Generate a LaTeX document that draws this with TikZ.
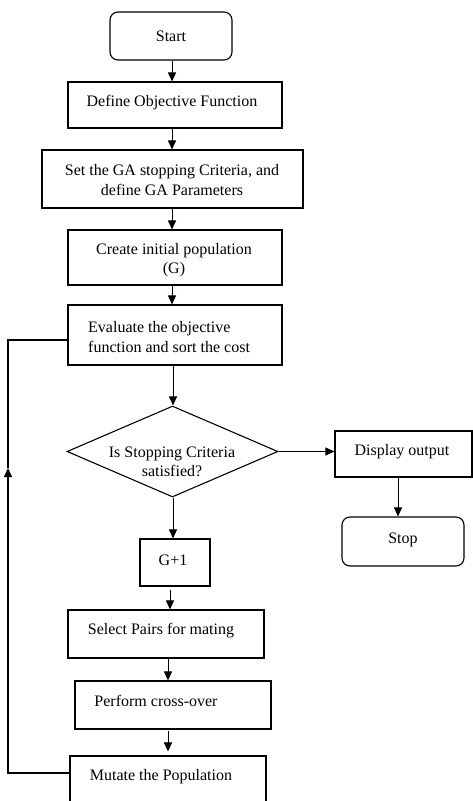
\documentclass[tikz,border=0pt]{standalone}
\usepackage{fontspec}
\setmainfont{Liberation Serif}
\usetikzlibrary{arrows.meta,shapes.geometric}
\tikzset{
  box/.style={draw, line width=1.1pt, inner sep=0pt},
  rbox/.style={box, rounded corners=8pt},
  txt/.style={inner sep=0pt, font=\fontsize{16}{19.5}\selectfont, align=center},
  ltxt/.style={inner sep=0pt, font=\fontsize{16}{19.5}\selectfont, align=left},
  arr/.style={line width=1pt, -{Triangle[length=9pt,width=8pt]}},
  fb/.style={line width=1.6pt}
}
\begin{document}
\begin{tikzpicture}[x=1pt,y=-1pt]
\clip (0,0) rectangle (473,801);
\fill[white] (0,0) rectangle (473,801);
% boxes
\node[rbox, minimum width=122pt, minimum height=48pt] (start) at (171,36) {};
\node[txt] (startt) at (171,36) {Start};
\node[box, minimum width=214pt, minimum height=46pt] (def) at (175,105) {};
\node[txt] (deft) at (172,103) {Define Objective Function};
\node[box, minimum width=261pt, minimum height=58pt] (set) at (172.5,179) {};
\node[txt] (sett) at (172,180) {Set the GA stopping Criteria, and\\define GA Parameters};
\node[box, minimum width=214pt, minimum height=55pt] (create) at (175,257.5) {};
\node[txt] (createt) at (174,260) {Create initial population\\(G)};
\node[box, minimum width=214pt, minimum height=60pt] (eval) at (175,335) {};
\node[ltxt, anchor=west] (evalt) at (88,337) {Evaluate the objective\\function and sort the cost};
\node[draw, line width=1.1pt, diamond, aspect=2.32, minimum width=211pt, minimum height=91pt, inner sep=0pt] (dec) at (172.5,451.5) {};
\node[txt] (dect) at (172,462) {Is Stopping Criteria\\satisfied?};
\node[box, minimum width=137pt, minimum height=46pt] (disp) at (403.5,454) {};
\node[txt] (dispt) at (402,452) {Display output};
\node[rbox, minimum width=122pt, minimum height=49pt] (stop) at (403,541.5) {};
\node[txt] (stopt) at (403,540) {Stop};
\node[box, minimum width=70pt, minimum height=47pt] (g1) at (175,562.5) {};
\node[txt] (g1t) at (173,560) {G+1};
\node[box, minimum width=196pt, minimum height=48pt] (sel) at (166,634) {};
\node[txt] (selt) at (161,631) {Select Pairs for mating};
\node[box, minimum width=196pt, minimum height=48pt] (cross) at (173,705) {};
\node[txt] (crosst) at (156,701) {Perform cross-over};
\node[box, minimum width=196pt, minimum height=60pt] (mut) at (168,786) {};
\node[txt] (mutt) at (161,777) {Mutate the Population};
% arrows
\draw[arr] ([xshift=1pt]start.south) -- ([xshift=1pt]start.south |- def.north);
\draw[arr] ([xshift=-3pt]def.south) -- ([xshift=-3pt]def.south |- set.north);
\draw[arr] (set.south -| 172,0) -- (create.north -| 172,0);
\draw[arr] (create.south -| 172,0) -- (eval.north -| 172,0);
\draw[arr] (eval.south -| 173,0) -- (dec.north -| 173,0);
\draw[arr] (dec.east) -- (disp.west |- dec.east);
\draw[arr] (disp.south -| 398,0) -- (stop.north -| 398,0);
\draw[arr] (dec.south -| 173,0) -- (g1.north -| 173,0);
\draw[arr] ([yshift=-3pt]g1.south -| 170,0) -- (sel.north -| 170,0);
\draw[arr] (sel.south -| 168,0) -- (cross.north -| 168,0);
\draw[arr] ([yshift=-1pt]cross.south -| 168,0) -- ([yshift=4pt]mut.north -| 168,0);
% feedback loop
\coordinate (fbl) at (8,773);
\coordinate (fbm) at (8,468);
\coordinate (fbt) at (8,340);
\draw[fb] (mut.west |- fbl) -- (fbl) -- ([yshift=-2pt]fbm);
\draw[line width=1pt, -{Triangle[length=9pt,width=8pt]}] ([yshift=-10pt]fbm) -- (fbm);
\draw[fb] (fbm) -- (fbt) -- (eval.west |- fbt);
\end{tikzpicture}
\end{document}
